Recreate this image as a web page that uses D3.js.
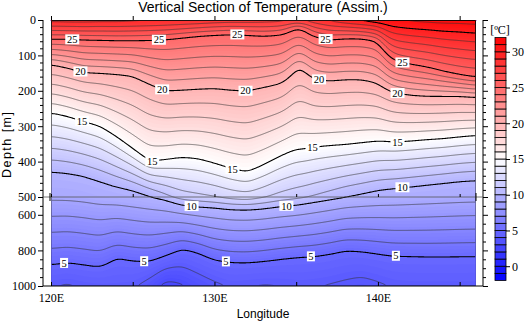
<!DOCTYPE html>
<html>
<head>
<meta charset="utf-8">
<title>Vertical Section of Temperature (Assim.)</title>
<style>
  body { margin: 0; background: #fff; }
  svg { display: block; }
</style>
</head>
<body>
<svg width="525" height="321"></svg>
<script src="https://cdn.jsdelivr.net/npm/d3@7"></script>
<script>

    var lons = [120,121,122,123,124,125,126,127,128,129,130,131,132,133,134,134.5,135,135.5,136,137,138,139,140,140.5,141,142,143,144,145,146];

    // surface temperature [degC]
    var sst = [29.4,29.5,29.5,29.4,29.4,29.3,29.2,29.1,29.0,28.9,28.7,28.6,28.6,28.5,28.4,28.2,28.0,28.2,28.6,29.2,29.8,30.3,30.7,30.9,31.0,31.2,31.3,31.4,31.4,31.5];

    // depth [m] of each isotherm along the section
    var d25 = [54,54,56,57,58,58,57,55,50,45,42,40,42,45,42,35,22,28,45,56,52,52,60,95,115,125,133,145,155,162];
    var d20 = [125,135,148,150,153,158,180,200,198,195,193,198,200,190,180,165,135,140,165,172,168,168,178,195,205,212,215,215,215,218];
    var d15 = [262,272,287,300,330,365,400,395,388,392,405,420,430,410,385,375,365,365,360,355,352,347,342,343,345,342,338,335,330,326];
    var d10 = [428,432,440,455,470,480,495,515,545,555,560,570,572,565,553,549,545,538,530,515,500,490,480,477,475,470,465,460,455,452];
    var d5  = [880,868,880,893,840,858,862,830,790,812,852,866,868,860,848,843,838,835,833,820,800,805,818,825,830,832,834,834,833,832];
    var d4  = [1005,985,1010,1020,1030,1015,960,900,888,930,975,1010,1000,990,995,1000,1010,1010,1005,990,965,948,975,995,1010,1020,1020,1020,1020,1020];

    var isoTemps = [25, 20, 15, 10, 5, 4];
    var isoDepths = [d25, d20, d15, d10, d5, d4];

    // labelled contours
    var labelTemps = [25,25,25,25,25, 20,20,20,20,20, 15,15,15,15,15, 10,10,10, 5,5,5,5,5];
    var labelLons  = [121.3,126.6,131.4,136.8,141.5, 121.8,126.8,131.9,136.4,141.2, 121.9,126.2,131.1,136.0,141.2, 128.6,134.4,141.5, 120.8,125.7,130.7,135.9,141.1];

    // axis ticks
    var depthTicks = [0,100,200,300,400,500,600,800,1000];
    var lonTicks = [120,125,130,135,140,145];
    var lonLabels = [120,130,140];
    var barTicks = [0,5,10,15,20,25,30];

    var svg = d3.select("svg");
    var serif = "Liberation Serif, Times New Roman, serif";
    var sans = "Liberation Sans, Arial, sans-serif";

    var x = d3.scaleLinear().domain([120, 146]).range([51, 476]);
    var y = d3.scaleLinear().domain([0, 500, 1000]).range([20, 197, 286]);
    var color = d3.scaleLinear().domain([-2, 15, 32]).range(["#0000ff", "#ffffff", "#ff0000"]);

    function at(arr, lon) {
        return d3.scaleLinear().domain(lons).range(arr)(lon);
    }

    // temperature profile at one longitude
    function profile(lon) {
        var ds = [0], ts = [at(sst, lon)];
        isoDepths.forEach(function(a, k) { ds.push(at(a, lon)); ts.push(isoTemps[k]); });
        return d3.scaleLinear().domain(ds).range(ts);
    }

    //grid in screen pixels
    var x0 = x.range()[0], y0 = y.range()[0];
    var n = Math.round(x.range()[1] - x0), m = Math.round(y.range()[2] - y0);
    var values = new Float64Array(n * m);
    for (var i = 0; i < n; i++) {
        var col = profile(x.invert(x0 + i + 0.5));
        for (var j = 0; j < m; j++) values[j * n + i] = col(y.invert(y0 + j + 0.5));
    }
    // soften the corners between the read-off columns
    if (d3.blur2) d3.blur2({data: values, width: n}, 4, 1);

    var path = d3.geoPath();
    var plot = svg.append("g").attr("transform", "translate(" + x0 + "," + y0 + ")");

    // shading
    var steps = d3.range(2, 32, 0.25);
    plot.append("rect").attr("width", n).attr("height", m).attr("fill", color(2));
    plot.append("g").selectAll("path")
        .data(d3.contours().size([n, m]).thresholds(steps)(values))
        .join("path")
        .attr("d", path)
        .attr("fill", function(d) { return color(d.value + 0.125); });

    // contour lines
    svg.append("clipPath").attr("id", "inner")
        .append("rect").attr("x", 0.8).attr("y", 0.8).attr("width", n - 1.6).attr("height", m - 1.6);
    plot.append("g").attr("clip-path", "url(#inner)").attr("fill", "none")
        .selectAll("path")
        .data(d3.contours().size([n, m]).thresholds(d3.range(3, 32, 1))(values))
        .join("path")
        .attr("d", path)
        .attr("stroke", function(d) { return d.value % 5 === 0 ? "#000" : "#333"; })
        .attr("stroke-width", function(d) { return d.value % 5 === 0 ? 1.1 : 0.7; })
        .attr("stroke-opacity", function(d) { return d.value % 5 === 0 ? 1 : 0.85; });

    // contour labels
    var lab = svg.append("g").selectAll("g")
        .data(labelTemps.map(function(t, k) { return {t: t, lon: labelLons[k]}; }))
        .join("g")
        .attr("transform", function(d) {
            var dep = at(isoDepths[isoTemps.indexOf(d.t)], d.lon);
            return "translate(" + x(d.lon) + "," + y(dep) + ")";
        });
    lab.append("rect")
        .attr("x", function(d) { return d.t < 10 ? -4 : -7; })
        .attr("y", -5)
        .attr("width", function(d) { return d.t < 10 ? 8 : 14; })
        .attr("height", 10)
        .attr("fill", "#fff");
    lab.append("text")
        .attr("text-anchor", "middle")
        .attr("dy", "0.35em")
        .style("font-family", serif)
        .style("font-size", "10.5px")
        .text(function(d) { return d.t; });

    // frame
    var frame = svg.append("g").attr("stroke", "#000").attr("stroke-width", 1);
    frame.append("line").attr("x1", 43).attr("x2", 43).attr("y1", y(0)).attr("y2", y(1000));
    frame.append("line").attr("x1", 483).attr("x2", 483).attr("y1", y(0)).attr("y2", y(1000));
    frame.append("line").attr("x1", 43).attr("x2", 483).attr("y1", y(1000)).attr("y2", y(1000));
    frame.append("line").attr("x1", 43).attr("x2", 483).attr("y1", y(500)).attr("y2", y(500))
        .attr("stroke", "#555").attr("stroke-width", 0.8);
    frame.selectAll("line.brk").data([x(120) - 1, x(146)]).join("line")
        .attr("x1", function(d) { return d; }).attr("x2", function(d) { return d; })
        .attr("y1", y(500) - 4).attr("y2", y(500) + 4);

    function styleAxis(g) {
        g.select(".domain").remove();
        g.selectAll("text").attr("fill", "#000")
            .style("font-family", serif).style("font-size", "12px");
    }

    var minorDepth = d3.range(0, 500, 20).concat(d3.range(500, 1001, 50))
        .filter(function(d) { return depthTicks.indexOf(d) < 0; });

    svg.append("g").attr("transform", "translate(43,0)")
        .call(d3.axisLeft(y).tickValues(depthTicks).tickSize(5).tickPadding(2).tickFormat(d3.format("d")))
        .call(styleAxis);
    svg.append("g").attr("transform", "translate(43,0)")
        .call(d3.axisLeft(y).tickValues(minorDepth).tickSize(3).tickFormat("")).call(styleAxis);
    svg.append("g").attr("transform", "translate(483,0)")
        .call(d3.axisRight(y).tickValues(depthTicks).tickSize(5).tickFormat("")).call(styleAxis);
    svg.append("g").attr("transform", "translate(483,0)")
        .call(d3.axisRight(y).tickValues(minorDepth).tickSize(3).tickFormat("")).call(styleAxis);

    svg.append("g").attr("transform", "translate(0," + y(0) + ")")
        .call(d3.axisTop(x).tickValues(lonTicks).tickSize(4).tickFormat("")).call(styleAxis);
    svg.append("g").attr("transform", "translate(0," + y(500) + ")")
        .call(d3.axisBottom(x).tickValues(lonTicks).tickSize(-3).tickFormat("")).call(styleAxis);
    svg.append("g").attr("transform", "translate(0," + y(1000) + ")")
        .call(d3.axisBottom(x).tickValues(lonTicks).tickSize(-4).tickFormat("")).call(styleAxis);
    svg.append("g").attr("transform", "translate(0," + y(1000) + ")")
        .call(d3.axisBottom(x).tickValues(lonLabels).tickSize(0).tickPadding(7)
            .tickFormat(function(d) { return d + "E"; })).call(styleAxis);

    // colour bar
    var cb = d3.scaleLinear().domain([-2, 32]).range([280.5, 37.5]);
    svg.append("g").selectAll("rect")
        .data(d3.range(-2, 32, 1))
        .join("rect")
        .attr("x", 495).attr("width", 11)
        .attr("y", function(d) { return cb(d + 1); })
        .attr("height", function(d) { return cb(d) - cb(d + 1); })
        .attr("fill", function(d) { return color(d + 0.5); })
        .attr("stroke", "#000").attr("stroke-width", 0.8);
    svg.append("g").attr("transform", "translate(506,0)")
        .call(d3.axisRight(cb).tickValues(barTicks).tickSize(4).tickPadding(2)).call(styleAxis);
    svg.append("text").attr("x", 500).attr("y", 34).attr("text-anchor", "middle")
        .style("font-family", serif).style("font-size", "12px").text("[ºC]");

    // titles
    svg.append("text").attr("x", 263).attr("y", 12).attr("text-anchor", "middle")
        .style("font-family", sans).style("font-size", "14px")
        .text("Vertical Section of Temperature (Assim.)");
    svg.append("text").attr("x", 263).attr("y", 318).attr("text-anchor", "middle")
        .style("font-family", sans).style("font-size", "12px").text("Longitude");
    svg.append("text").attr("transform", "translate(11,145) rotate(-90)").attr("text-anchor", "middle")
        .attr("textLength", 66).attr("lengthAdjust", "spacing")
        .style("font-family", sans).style("font-size", "12.5px").text("Depth [m]");
</script>
</body>
</html>
